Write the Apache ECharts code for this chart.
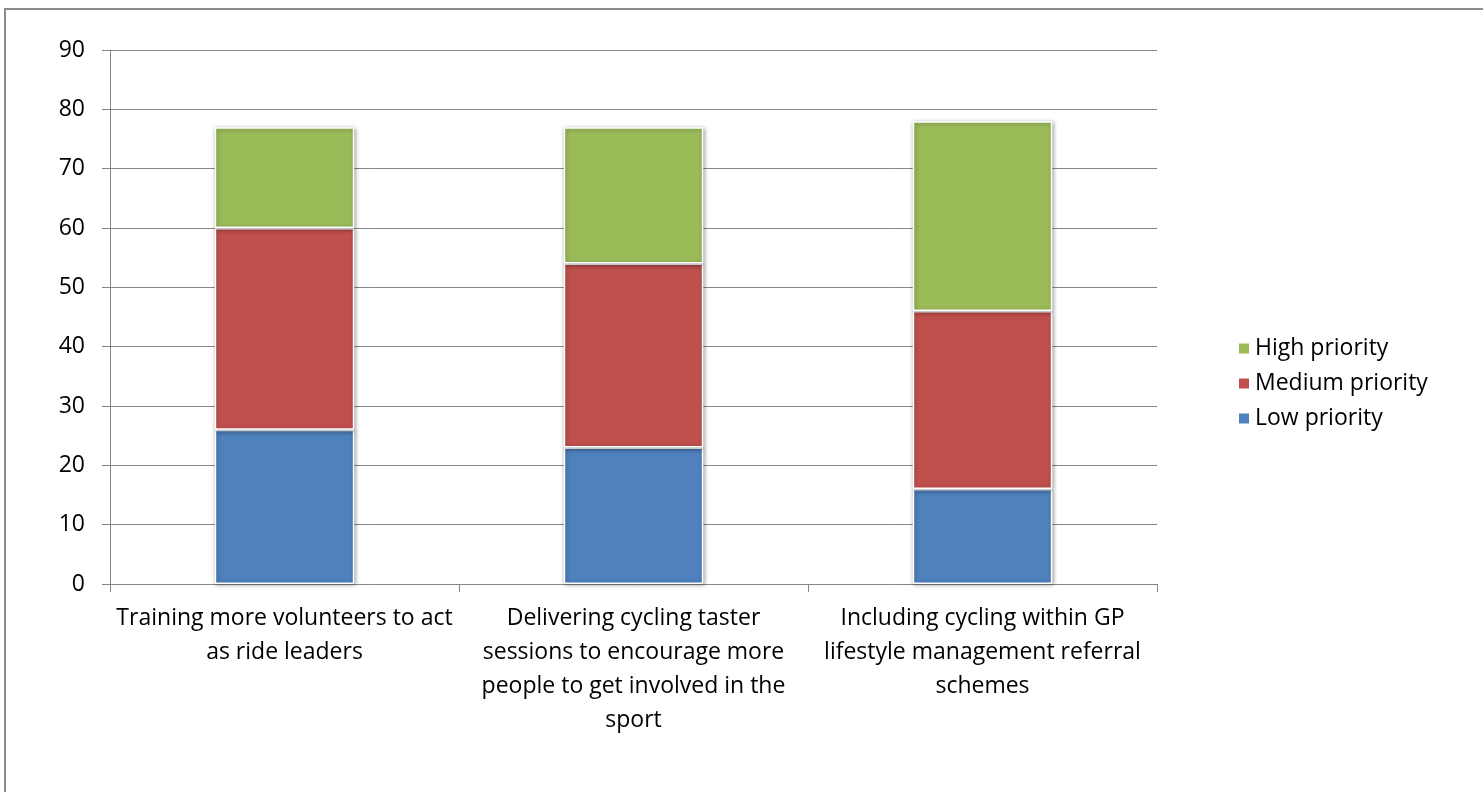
<!DOCTYPE html>
<html>
<head>
<meta charset="utf-8">
<script src="https://cdn.jsdelivr.net/npm/echarts@6/dist/echarts.min.js"></script>
<style>html,body{margin:0;padding:0;background:#fff;}#c{width:1483px;height:792px;}</style>
</head>
<body>
<div id="c"></div>
<script>
const categories = [
  "Training more volunteers to act\nas ride leaders",
  "Delivering cycling taster\nsessions to encourage more\npeople to get involved in the\nsport",
  "Including cycling within GP\nlifestyle management referral\nschemes"
];
const lowPriority = [26, 23, 16];
const mediumPriority = [34, 31, 30];
const highPriority = [17, 23, 32];
const yTicks = [0, 10, 20, 30, 40, 50, 60, 70, 80, 90];

const FONT = '"Open Sans", "Noto Sans", sans-serif';
const chart = echarts.init(document.getElementById('c'), null, {renderer: 'canvas'});
const barStyle = (color) => ({
  color: color,
  borderColor: '#ffffff',
  borderWidth: 1.5,
  shadowBlur: 4,
  shadowColor: 'rgba(0,0,0,0.35)',
  shadowOffsetX: 1,
  shadowOffsetY: 1
});
chart.setOption({
  animation: false,
  backgroundColor: '#ffffff',
  graphic: [{
    type: 'rect', shape: {x: 5, y: 9, width: 1600, height: 900},
    style: {fill: 'none', stroke: '#8c8c8c', lineWidth: 2}, silent: true, z: -1
  }],
  grid: {left: 110, right: 326, top: 50, bottom: 208},
  legend: {
    orient: 'vertical', left: 1232, top: 332,
    itemWidth: 12, itemHeight: 12, itemGap: 12, itemTextGap: 10,
    icon: 'rect',
    textStyle: {fontFamily: FONT, fontSize: 23, color: '#000', lineHeight: 23},
    data: ['High priority', 'Medium priority', 'Low priority']
  },
  xAxis: {
    type: 'category', data: categories,
    axisLine: {lineStyle: {color: '#868686', width: 1}},
    axisTick: {show: true, length: 8, alignWithLabel: false, lineStyle: {color: '#868686'}},
    axisLabel: {fontFamily: FONT, fontSize: 23, color: '#000', lineHeight: 34, margin: 17, interval: 0}
  },
  yAxis: {
    type: 'value', min: yTicks[0], max: yTicks[yTicks.length - 1], interval: 10,
    axisLine: {show: true, lineStyle: {color: '#868686', width: 1}},
    axisTick: {show: true, length: 8, lineStyle: {color: '#868686'}},
    axisLabel: {fontFamily: FONT, fontSize: 23, color: '#000', margin: 25},
    splitLine: {show: true, lineStyle: {color: '#868686', width: 1}}
  },
  series: [
    {name: 'Low priority', type: 'bar', stack: 's', barWidth: '40%', data: lowPriority, itemStyle: barStyle('#4F81BD')},
    {name: 'Medium priority', type: 'bar', stack: 's', barWidth: '40%', data: mediumPriority, itemStyle: barStyle('#C0504D')},
    {name: 'High priority', type: 'bar', stack: 's', barWidth: '40%', data: highPriority, itemStyle: barStyle('#9BBB59')}
  ]
});
</script>
</body>
</html>
